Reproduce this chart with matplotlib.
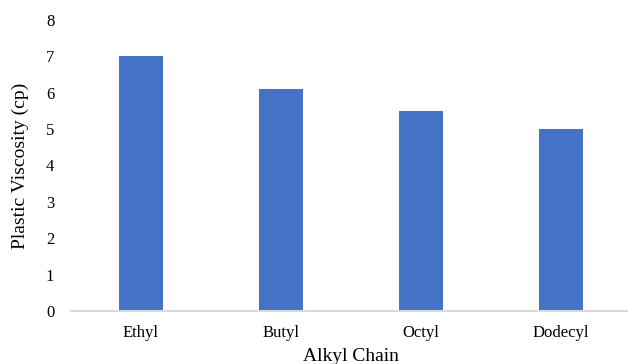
import numpy as np
import matplotlib.pyplot as plt

# plastic viscosity for each alkyl chain length
chains = ['Ethyl', 'Butyl', 'Octyl', 'Dodecyl']
viscosity = [7.0, 6.1, 5.5, 5.0]

plt.rcParams['font.family'] = ['Liberation Serif', 'DejaVu Serif']

fig = plt.figure(figsize=(6.28, 3.64), dpi=100)
ax = fig.add_axes([71/628, (364-311)/364, 560/628, 291/364])

x = np.arange(len(chains))
ax.bar(x, viscosity, width=0.314, color='#4472C4', zorder=2)

ax.set_xlim(-0.5, len(chains) - 0.5)
ax.set_ylim(0, 8)
ax.set_yticks(range(0, 9))
ax.set_xticks(x)
ax.set_xticklabels(chains)
ax.tick_params(axis='both', length=0, labelsize=12, colors='black')
ax.tick_params(axis='y', pad=12)
ax.tick_params(axis='x', pad=10)

for side in ['top', 'right', 'left']:
    ax.spines[side].set_visible(False)
ax.spines['bottom'].set_color('#d9d9d9')
ax.spines['bottom'].set_linewidth(1.5)

ax.set_xlabel('Alkyl Chain', fontsize=14, labelpad=5)
ax.set_ylabel('Plastic Viscosity (cp)', fontsize=14, labelpad=12)

fig.savefig('out.png', dpi=100)
